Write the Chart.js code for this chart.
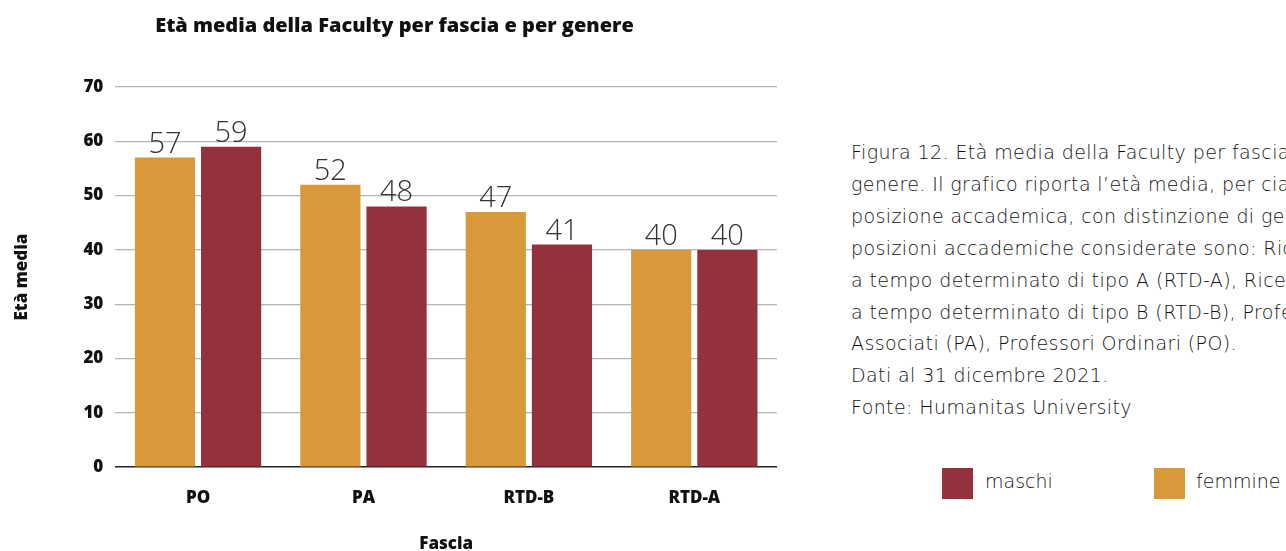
<!DOCTYPE html>
<html>
<head>
<meta charset="utf-8">
<script src="https://cdn.jsdelivr.net/npm/chart.js@4"></script>
<style>
  body { margin: 0; background: #fff; width: 1286px; height: 551px; overflow: hidden; position: relative; }
  #wrap { position: absolute; left: 0; top: 0; width: 800px; height: 554px; }
  #caption { position: absolute; left: 851px; top: 137px; width: 440px; white-space: nowrap; overflow: hidden;
    font-family: "DejaVu Sans", sans-serif; font-weight: 300; font-size: 19px; letter-spacing: 0.4px; line-height: 31.9px; color: #111; }
  .leg { position: absolute; top: 468px; font-family: "DejaVu Sans", sans-serif; font-weight: 300; font-size: 19px; color: #111; }
  .leg span { position: absolute; top: 0; width: 31px; height: 31px; }
  .leg b { position: absolute; top: 2px; font-weight: 300; white-space: nowrap; }
</style>
</head>
<body>
<div id="wrap"><canvas id="chart1"></canvas></div>
<div id="caption">Figura 12. Età media della Faculty per fascia e per<br>genere. Il grafico riporta l’età media, per ciascuna<br>posizione accademica, con distinzione di genere. Le<br>posizioni accademiche considerate sono: Ricercatori<br>a tempo determinato di tipo A (RTD-A), Ricercatori<br>a tempo determinato di tipo B (RTD-B), Professori<br>Associati (PA), Professori Ordinari (PO).<br>Dati al 31 dicembre 2021.<br>Fonte: Humanitas University</div>
<div class="leg" style="left:942px"><span style="left:0;background:#93323d"></span><b style="left:43px">maschi</b></div>
<div class="leg" style="left:1154px"><span style="left:0;background:#d9983a"></span><b style="left:42px">femmine</b></div>
<script>
const fasce = ["PO", "PA", "RTD-B", "RTD-A"];
const femmine = [57, 52, 47, 40];
const maschi = [59, 48, 41, 40];
const yTicks = [0, 10, 20, 30, 40, 50, 60, 70];

const boldFont = { family: "Open Sans", size: 17, weight: "800" };

const valueLabels = {
  id: "valueLabels",
  afterDatasetsDraw(chart) {
    const ctx = chart.ctx;
    ctx.save();
    ctx.font = "300 29px 'Open Sans', sans-serif";
    ctx.fillStyle = "#333";
    ctx.textAlign = "center";
    ctx.textBaseline = "alphabetic";
    chart.data.datasets.forEach((ds, i) => {
      chart.getDatasetMeta(i).data.forEach((bar, j) => {
        ctx.fillText(ds.data[j], bar.x, bar.y - 5);
      });
    });
    ctx.restore();
  },
};

const cht1 = document.getElementById("chart1");
new Chart(cht1, {
  type: "bar",
  data: {
    labels: fasce,
    datasets: [
      { label: "femmine", data: femmine, backgroundColor: "#d9983a" },
      { label: "maschi", data: maschi, backgroundColor: "#93323d" },
    ],
  },
  options: {
    responsive: true,
    maintainAspectRatio: false,
    animation: false,
    layout: { padding: { left: 12, right: 23, top: 6, bottom: 0 } },
    datasets: { bar: { categoryPercentage: 0.8, barPercentage: 0.91 } },
    plugins: {
      legend: { display: false },
      tooltip: { enabled: false },
      title: {
        display: true,
        text: "Età media della Faculty per fascia e per genere",
        color: "#111",
        font: { family: "Open Sans", size: 20, weight: "800" },
        padding: { top: 8, bottom: 49 },
      },
    },
    scales: {
      x: {
        grid: { display: false },
        border: { display: false },
        ticks: { color: "#111", padding: 13, font: boldFont },
        title: { display: true, text: "Fascia", color: "#111", padding: { top: 12, bottom: 0 }, font: boldFont },
      },
      y: {
        min: 0,
        max: 70,
        afterBuildTicks: (axis) => { axis.ticks = yTicks.map((v) => ({ value: v })); },
        border: { display: false },
        grid: {
          drawTicks: false,
          color: (c) => (c.tick && c.tick.value === 0 ? "#222" : "#b5b5b5"),
          lineWidth: (c) => (c.tick && c.tick.value === 0 ? 1.5 : 1.2),
        },
        ticks: { color: "#111", padding: 12, font: boldFont },
        title: { display: true, text: "Età media", color: "#111", padding: { top: 0, bottom: 39 }, font: boldFont },
      },
    },
  },
  plugins: [valueLabels],
});
</script>
</body>
</html>
